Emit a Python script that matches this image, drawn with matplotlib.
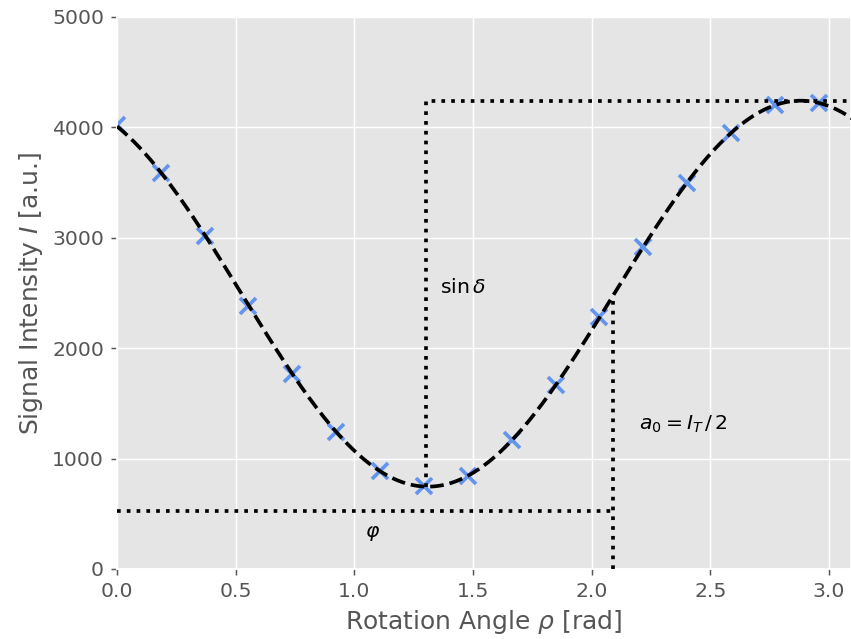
import numpy as np
import matplotlib
matplotlib.use("Agg")
import matplotlib.pyplot as plt

plt.style.use("ggplot")

# measured data
rho = [0.0, 0.185, 0.370, 0.554, 0.739, 0.924, 1.109, 1.294, 1.478,
       1.663, 1.848, 2.033, 2.218, 2.402, 2.587, 2.772, 2.957]
intensity = [4020, 3590, 3019, 2385, 1764, 1238, 890, 752, 845,
             1168, 1667, 2283, 2920, 3499, 3952, 4203, 4224]

# fitted model parameters I = a0 - A*cos(2*(rho - rho_min))
fit_a0 = 2494
fit_amp = 1748
fit_rho_min = 1.31

# annotation guide values
sin_x = 1.30
sin_ymin = 745
sin_ymax = 4242
phi_y = 525
a0_x = 2.09
a0_ymax = 2455

xlim = (0.0, 3.093)
ylim = (0, 5000)

dpi = 133
fig = plt.figure(figsize=(851 / dpi, 639 / dpi), dpi=dpi)
ax = fig.add_axes([117 / 851, 70 / 639, 1 - 117 / 851, 552 / 639])

x_fit = np.linspace(xlim[0], xlim[1] + 0.1, 400)
y_fit = fit_a0 - fit_amp * np.cos(2 * (x_fit - fit_rho_min))

ax.plot(rho, intensity, linestyle="none", marker="x", color="#6495ED",
        markersize=9, markeredgewidth=2, zorder=2)
ax.plot(x_fit, y_fit, "k--", linewidth=2, zorder=3)

ax.plot([sin_x, sin_x, xlim[1] + 0.1], [sin_ymin, sin_ymax, sin_ymax],
        "k:", linewidth=2, zorder=3)
ax.plot([xlim[0], a0_x], [phi_y, phi_y], "k:", linewidth=2, zorder=3)
ax.plot([a0_x, a0_x], [ylim[0], a0_ymax], "k:", linewidth=2, zorder=3)

ax.text(1.36, 2550, r"$\sin\delta$", fontsize=11, va="center", ha="left")
ax.text(2.20, 1310, r"$a_0 = I_T\,/\,2$", fontsize=11, va="center", ha="left")
ax.text(1.075, 320, r"$\varphi$", fontsize=11, va="center", ha="center")

ax.set_xlim(*xlim)
ax.set_ylim(*ylim)
ax.set_xticks([0.0, 0.5, 1.0, 1.5, 2.0, 2.5, 3.0])
ax.set_yticks([0, 1000, 2000, 3000, 4000, 5000])
ax.tick_params(labelsize=11)
ax.set_xlabel(r"Rotation Angle $\rho$ [rad]", fontsize=13.5)
ax.set_ylabel(r"Signal Intensity $I$ [a.u.]", fontsize=13.5)

fig.savefig("out.png", dpi=dpi)
